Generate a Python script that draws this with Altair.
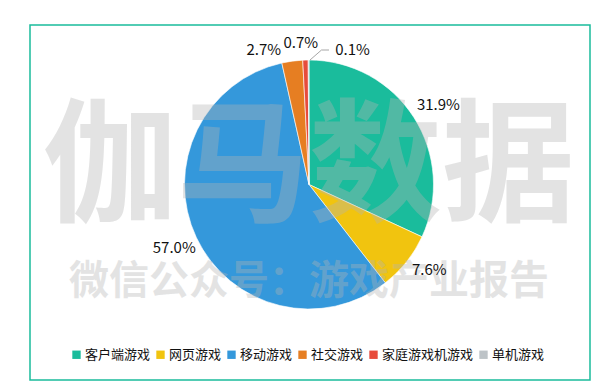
import altair as alt
import pandas as pd

categories = ["客户端游戏", "网页游戏", "移动游戏", "社交游戏", "家庭游戏机游戏", "单机游戏"]
values = [31.9, 7.6, 57.0, 2.7, 0.7, 0.1]
colors = ["#1ABC9C", "#F1C40F", "#3498DB", "#E67E22", "#E74C3C", "#BDC3C7"]
watermark_main = "伽马数据"
watermark_sub = "微信公众号：游戏产业报告"

df = pd.DataFrame({"cat": categories, "value": values, "idx": list(range(len(categories)))})
df["label"] = [f"{v:.1f}%" for v in values]

FONT = "Noto Sans CJK SC"
CX, CY = 279, 159.5

theta = alt.Theta("value:Q", stack=True)
order = alt.Order("idx:Q")

base = alt.Chart(df)

pie = base.mark_arc(outerRadius=124.5, stroke="white", strokeWidth=0.6).encode(
    theta=theta,
    order=order,
    color=alt.Color(
        "cat:N",
        scale=alt.Scale(domain=categories, range=colors),
        sort=categories,
        legend=alt.Legend(
            title=None,
            orient="none",
            legendX=40,
            legendY=323,
            direction="horizontal",
            symbolType="square",
            symbolSize=70,
            symbolStrokeWidth=0,
            labelFont=FONT,
            labelFontSize=13,
            labelColor="#111111",
            labelOffset=2,
            columnPadding=3,
        ),
    ),
    x=alt.value(CX),
    y=alt.value(CY),
)

wm1 = base.transform_filter(alt.datum.idx == 0).mark_text(
    text=watermark_main, font=FONT, fontSize=133, fontWeight="bold",
    color="#b4b4b4", opacity=0.36, align="center", baseline="middle",
).encode(x=alt.value(279), y=alt.value(146))

wm2 = base.transform_filter(alt.datum.idx == 0).mark_text(
    text=watermark_sub, font=FONT, fontSize=40, fontWeight="bold",
    color="#b4b4b4", opacity=0.36, align="center", baseline="middle",
).encode(x=alt.value(279), y=alt.value(257))

def label_layer(cond, dx=0, dy=0):
    return base.mark_text(
        radius=150, font=FONT, fontSize=15, color="#111111",
        align="center", baseline="middle", dx=dx, dy=dy,
    ).encode(
        theta=theta, order=order, text="label:N",
        x=alt.value(CX), y=alt.value(CY),
        opacity=alt.condition(cond, alt.value(1), alt.value(0)),
    )

label_319 = label_layer(alt.datum.idx == 0, dx=3, dy=1)
label_76 = label_layer(alt.datum.idx == 1, dx=3, dy=-8)
label_570 = label_layer(alt.datum.idx == 2, dx=1, dy=0)
label_27 = label_layer(alt.datum.idx == 3, dx=-25, dy=14)
label_07 = label_layer(alt.datum.idx == 4, dx=-4, dy=8)
label_01 = label_layer(alt.datum.idx == 5, dx=44, dy=15)

one = base.transform_filter(alt.datum.idx == 5)
leader1 = one.mark_rule(color="#a6a6a6", strokeWidth=1).encode(
    x=alt.value(280), y=alt.value(35), x2=alt.value(291.5), y2=alt.value(25)
)
leader2 = one.mark_rule(color="#a6a6a6", strokeWidth=1).encode(
    x=alt.value(291.5), y=alt.value(25), x2=alt.value(299), y2=alt.value(25)
)

chart = alt.layer(
    pie, wm1, wm2, leader1, leader2,
    label_319, label_76, label_570, label_27, label_07, label_01
).properties(
    width=560,
    height=355,
    padding={"left": 22, "top": 17, "right": 10, "bottom": 5},
    autosize="none",
    background="white",
).configure_view(stroke="#1ABC9C", strokeWidth=1.5)

chart.save("out.html", embed_options={"renderer": "svg", "actions": False})
